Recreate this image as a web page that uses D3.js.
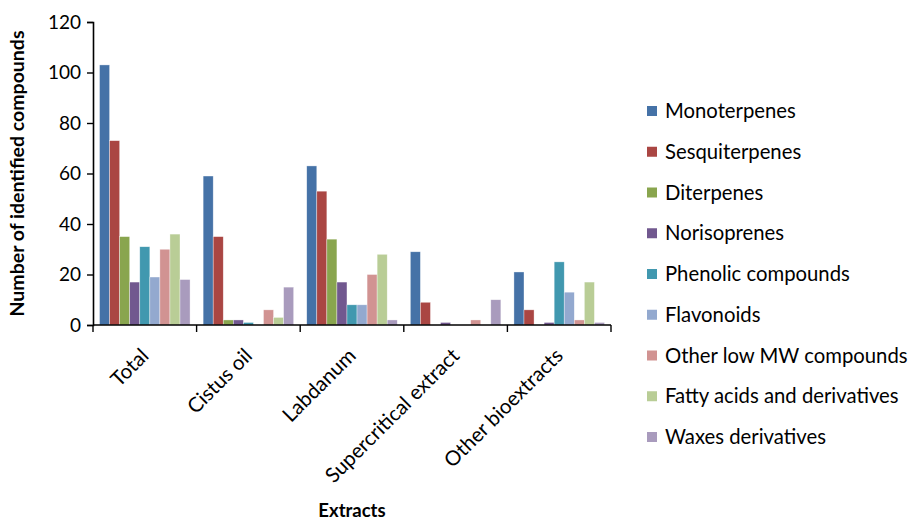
<!doctype html>
<html>
  <head>
    <script src="https://cdn.jsdelivr.net/npm/d3@7/dist/d3.min.js"></script>
    <style>
      body { margin: 0; background: #fff; }
      text { font-family: Lato, "Open Sans", sans-serif; fill: #000; }
    </style>
  </head>
  <body>
    <svg id="chart" width="915" height="520"></svg>
    <script>
      // data
      var extracts = ["Total", "Cistus oil", "Labdanum", "Supercritical extract", "Other bioextracts"];
      var classes = ["Monoterpenes", "Sesquiterpenes", "Diterpenes", "Norisoprenes",
        "Phenolic compounds", "Flavonoids", "Other low MW compounds",
        "Fatty acids and derivatives", "Waxes derivatives"];
      var colors = ["#4572A7", "#AA4643", "#89A54E", "#71588F", "#4198AF",
        "#93A9CF", "#D19392", "#B9CD96", "#A99BBD"];
      // one row per extract, in class order
      var counts = [
        [103, 73, 35, 17, 31, 19, 30, 36, 18],
        [59, 35, 2, 2, 1, 0, 6, 3, 15],
        [63, 53, 34, 17, 8, 8, 20, 28, 2],
        [29, 9, 0, 1, 0, 0, 2, 0, 10],
        [21, 6, 0, 1, 25, 13, 2, 17, 1]
      ];
      var yTicks = [0, 20, 40, 60, 80, 100, 120];

      var svg = d3.select("#chart");
      var plotL = 93, plotR = 611, plotT = 22, plotB = 325;

      var x0 = d3.scaleBand().domain(extracts).range([plotL, plotR]);
      var x1 = d3.scaleBand().domain(classes).range([0, x0.bandwidth()]).paddingOuter(0.65);
      var y = d3.scaleLinear().domain([0, 120]).range([plotB, plotT]);
      var color = d3.scaleOrdinal().domain(classes).range(colors);

      // bars
      var groups = svg.append("g").selectAll("g")
        .data(counts)
        .enter()
        .append("g")
          .attr("transform", (d, i) => "translate(" + x0(extracts[i]) + ",0)");

      groups.selectAll("rect")
        .data(d => d.map((v, j) => ({k: classes[j], v: v})).filter(d => d.v > 0))
        .enter()
        .append("rect")
          .attr("x", d => x1(d.k))
          .attr("y", d => y(d.v))
          .attr("width", x1.bandwidth())
          .attr("height", d => plotB - y(d.v))
          .attr("fill", d => color(d.k))
          .attr("stroke", "#fff")
          .attr("stroke-opacity", 0.6)
          .attr("stroke-width", 0.6);

      // y axis
      var yAxis = svg.append("g")
        .attr("transform", "translate(" + plotL + ",0)")
        .call(d3.axisLeft(y).tickValues(yTicks).tickSize(6).tickPadding(6));
      yAxis.select(".domain").attr("stroke", "#000").attr("stroke-width", 1.6);
      yAxis.selectAll(".tick line").attr("stroke", "#000").attr("stroke-width", 1.4);
      yAxis.selectAll("text").style("font-size", "19px").style("font-family", "Lato, sans-serif");

      // x axis with ticks between groups
      var xAxis = svg.append("g").attr("transform", "translate(0," + plotB + ")");
      xAxis.append("line")
        .attr("x1", plotL).attr("x2", plotR)
        .attr("stroke", "#000").attr("stroke-width", 1.6);
      var bounds = extracts.map(e => x0(e)).concat([plotR]);
      xAxis.selectAll(".sep")
        .data(bounds)
        .enter()
        .append("line")
          .attr("x1", d => d).attr("x2", d => d)
          .attr("y1", 0).attr("y2", 7)
          .attr("stroke", "#000").attr("stroke-width", 1.4);

      xAxis.selectAll(".lbl")
        .data(extracts)
        .enter()
        .append("text")
          .attr("transform", d => "translate(" + (x0(d) + x0.bandwidth() / 2) + ",27) rotate(-45)")
          .attr("text-anchor", "end")
          .attr("dy", "0.35em")
          .style("font-size", "20.5px")
          .text(d => d);

      // axis titles
      svg.append("text")
        .attr("transform", "translate(24," + ((plotT + plotB) / 2) + ") rotate(-90)")
        .attr("text-anchor", "middle")
        .style("font-size", "19.5px")
        .style("font-weight", "bold")
        .text("Number of identified compounds");

      svg.append("text")
        .attr("x", (plotL + plotR) / 2)
        .attr("y", 517)
        .attr("text-anchor", "middle")
        .style("font-size", "18.5px")
        .style("font-weight", "bold")
        .text("Extracts");

      // legend
      var legend = svg.append("g").selectAll("g")
        .data(classes)
        .enter()
        .append("g")
          .attr("transform", (d, i) => "translate(647," + (111 + i * 40.75) + ")");
      legend.append("rect")
        .attr("x", 0).attr("y", -5)
        .attr("width", 10).attr("height", 10)
        .attr("fill", d => color(d));
      legend.append("text")
        .attr("x", 18)
        .attr("dy", "0.35em")
        .style("font-size", "20.3px")
        .text(d => d);
    </script>
  </body>
</html>
